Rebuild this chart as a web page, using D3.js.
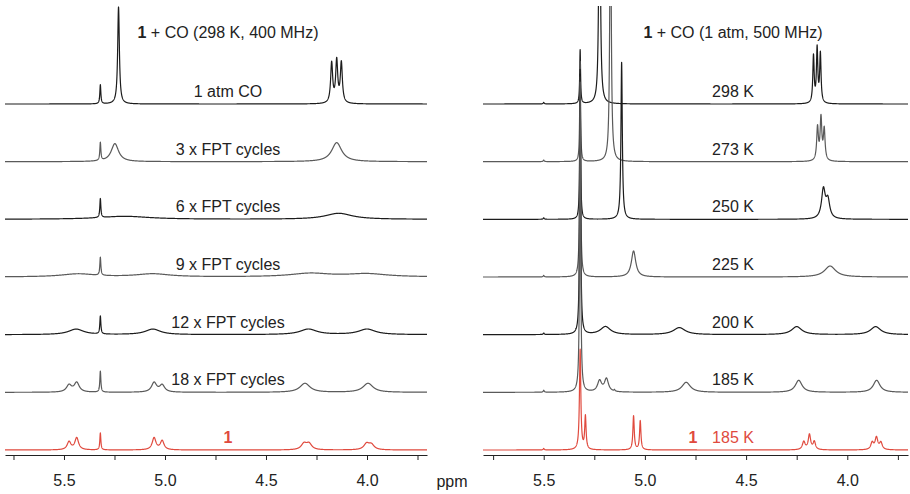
<!DOCTYPE html>
<html>
<head>
<meta charset="utf-8">
<script src="https://cdn.jsdelivr.net/npm/d3@7"></script>
<style>
  html, body { margin: 0; padding: 0; background: #fff; }
  svg { display: block; font-family: "Liberation Sans", Arial, sans-serif; }
  .axis text { font-size: 16px; fill: #222; }
  .axis line, .axis path { stroke: #222; }
</style>
</head>
<body>
<svg id="chart" width="910" height="494"></svg>
<script>
// axis ticks (ppm)
const tickValues = [5.75, 5.5, 5.25, 5.0, 4.75, 4.5, 4.25, 4.0, 3.75];
const tickLabels = ["", "5.5", "", "5.0", "", "4.5", "", "4.0", ""];

// panel titles
const leftTitle = ["1", " + CO (298 K, 400 MHz)"];
const rightTitle = ["1", " + CO (1 atm, 500 MHz)"];

// trace labels, top to bottom
const leftLabels = ["1 atm CO", "3 x FPT cycles", "6 x FPT cycles", "9 x FPT cycles",
                    "12 x FPT cycles", "18 x FPT cycles", "1"];
const rightLabels = ["298 K", "273 K", "250 K", "225 K", "200 K", "185 K", "185 K"];
const traceKind = ["black", "gray", "black", "gray", "black", "gray", "red"];

// peaks: [ppm, intensity, half width (ppm)]
const leftPeaks = [
  [[5.32, 19, 0.003], [5.23, 97, 0.005], [4.175, 40, 0.006], [4.150, 42, 0.006], [4.127, 40, 0.006]],
  [[5.32, 18, 0.003], [5.248, 18, 0.022], [4.15, 19, 0.03]],
  [[5.32, 19, 0.003], [5.2, 3, 0.15], [4.14, 6, 0.08]],
  [[5.32, 18, 0.003], [5.43, 3, 0.1], [5.06, 3, 0.1], [4.28, 3.5, 0.12], [4.0, 3, 0.12]],
  [[5.32, 18, 0.003], [5.44, 5.5, 0.045], [5.06, 5.5, 0.045], [4.29, 5.5, 0.05], [4.0, 5.5, 0.05]],
  [[5.32, 21, 0.003], [5.475, 7, 0.015], [5.437, 9.5, 0.015], [5.054, 9.5, 0.015], [5.014, 7, 0.015],
   [4.307, 9, 0.03], [3.995, 9, 0.03]],
  [[5.32, 17, 0.003], [5.475, 8, 0.011], [5.437, 12, 0.011], [5.054, 12, 0.011], [5.014, 9, 0.011],
   [4.312, 6, 0.016], [4.287, 6, 0.016], [4.002, 6, 0.016], [3.978, 5, 0.016]]
];

const rightPeaks = [
  [[5.50, 1.5, 0.003], [5.32, 54, 0.0025], [5.224, 300, 0.004],
   [4.167, 47, 0.004], [4.149, 54, 0.004], [4.133, 49, 0.004]],
  [[5.50, 1.5, 0.003], [5.32, 100, 0.0025], [5.17, 300, 0.004],
   [4.147, 33, 0.005], [4.130, 42, 0.005], [4.114, 31, 0.005]],
  [[5.50, 1.5, 0.003], [5.32, 150, 0.0025], [5.115, 157, 0.004],
   [4.118, 29, 0.011], [4.096, 18, 0.011]],
  [[5.50, 1.5, 0.003], [5.32, 200, 0.003], [5.056, 26, 0.013], [4.085, 11, 0.033]],
  [[5.50, 1.5, 0.003], [5.32, 260, 0.003], [5.195, 8, 0.03], [4.83, 7, 0.035],
   [4.25, 8, 0.03], [3.86, 8, 0.03]],
  [[5.50, 2, 0.003], [5.32, 310, 0.003], [5.15, 1.5, 0.003], [5.224, 11, 0.012], [5.19, 13, 0.012],
   [4.796, 10, 0.025], [4.24, 12, 0.02], [3.855, 12, 0.02]],
  [[5.50, 1.5, 0.003], [5.32, 100, 0.004], [5.294, 33, 0.004], [5.056, 34, 0.004], [5.023, 29, 0.004],
   [4.215, 8, 0.008], [4.187, 15, 0.007], [4.163, 8, 0.007],
   [3.877, 7, 0.008], [3.856, 12, 0.008], [3.834, 7, 0.008]]
];

const colors = { black: "#1c1c1c", gray: "#5a5a5a", red: "#e04a3e" };

const svg = d3.select("#chart");

// shared scales
const yBase = d3.scaleLinear().domain([0, 6]).range([104, 450]);
const yInt = d3.scaleLinear().domain([0, 100]).range([0, -100]);

// sample a spectrum as a sum of Lorentzian lines
function spectrum(peaks, domain) {
  const step = 0.0005;
  const pts = [];
  for (let p = domain[0]; p >= domain[1] - 1e-9; p -= step) {
    let v = 0;
    for (const [c, h, w] of peaks) {
      const t = (p - c) / w;
      v += h / (1 + t * t);
    }
    pts.push([p, v]);
  }
  return pts;
}

function drawPanel(opts) {
  const { id, domain, range, peaks, labels, title, labelX, redPrefixX } = opts;
  const x = d3.scaleLinear().domain(domain).range(range);

  svg.append("clipPath").attr("id", id)
    .append("rect")
    .attr("x", range[0]).attr("y", 6)
    .attr("width", range[1] - range[0]).attr("height", 452);

  const g = svg.append("g").attr("clip-path", `url(#${id})`);

  peaks.forEach((pk, i) => {
    const base = yBase(i);
    const line = d3.line()
      .x(d => x(d[0]))
      .y(d => base + yInt(d[1]));
    g.append("path")
      .datum(spectrum(pk, domain))
      .attr("fill", "none")
      .attr("stroke", colors[traceKind[i]])
      .attr("stroke-width", 1.2)
      .attr("stroke-linejoin", "round")
      .attr("d", line);
  });

  // trace labels
  labels.forEach((t, i) => {
    const red = traceKind[i] === "red";
    const txt = svg.append("text")
      .attr("x", labelX)
      .attr("y", yBase(i) - 7)
      .attr("text-anchor", "middle")
      .attr("font-size", 16)
      .attr("fill", red ? colors.red : "#222")
      .text(t);
    if (red && t === "1") txt.attr("font-weight", "bold");
  });
  if (redPrefixX) {
    svg.append("text")
      .attr("x", redPrefixX)
      .attr("y", yBase(6) - 7)
      .attr("text-anchor", "middle")
      .attr("font-size", 16)
      .attr("font-weight", "bold")
      .attr("fill", colors.red)
      .text("1");
  }

  // title
  const tt = svg.append("text")
    .attr("x", labelX)
    .attr("y", 38)
    .attr("text-anchor", "middle")
    .attr("font-size", 16)
    .attr("fill", "#222");
  tt.append("tspan").attr("font-weight", "bold").text(title[0]);
  tt.append("tspan").text(title[1]);

  // axis
  const axis = d3.axisBottom(x)
    .tickValues(tickValues)
    .tickFormat((d, i) => tickLabels[i])
    .tickSize(5)
    .tickSizeOuter(0)
    .tickPadding(15);
  svg.append("g")
    .attr("class", "axis")
    .attr("transform", "translate(0,455)")
    .call(axis)
    .call(a => a.selectAll("text").attr("font-family", null));
}

drawPanel({
  id: "clipL", domain: [5.792, 3.703], range: [5, 427],
  peaks: leftPeaks, labels: leftLabels, title: leftTitle, labelX: 228
});

drawPanel({
  id: "clipR", domain: [5.80, 3.70], range: [483, 908],
  peaks: rightPeaks, labels: rightLabels, title: rightTitle, labelX: 733, redPrefixX: 693
});

svg.append("text")
  .attr("x", 452)
  .attr("y", 487)
  .attr("text-anchor", "middle")
  .attr("font-size", 16)
  .attr("fill", "#222")
  .text("ppm");
</script>
</body>
</html>
